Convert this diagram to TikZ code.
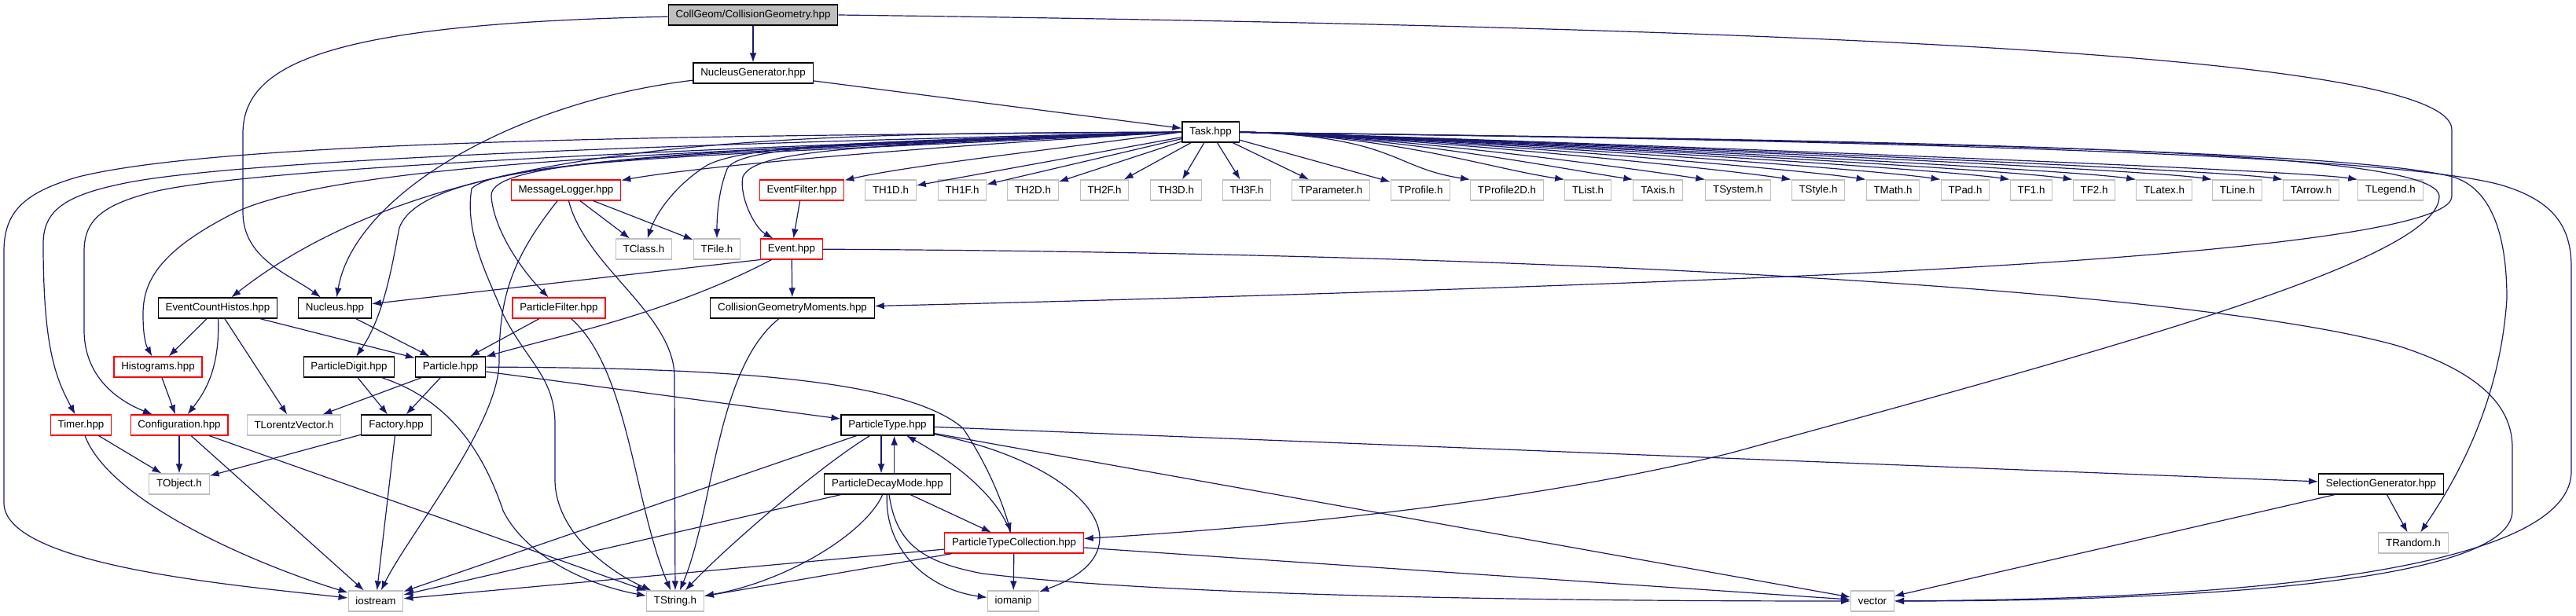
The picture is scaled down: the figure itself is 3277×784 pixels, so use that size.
\documentclass[tikz,border=0pt]{standalone}
\usepackage{fontspec}
\setmainfont{Liberation Sans}
\usetikzlibrary{arrows.meta, calc}
\definecolor{edgeblue}{RGB}{25, 25, 112}
\definecolor{framegray}{RGB}{191, 191, 191}
\definecolor{truncred}{RGB}{255, 0, 0}

\begin{document}
\begin{tikzpicture}[
    x=0.75pt, y=-0.75pt,
    file/.style={draw=black, fill=white, line width=0.8pt, font=\fontsize{10}{12}\selectfont, inner xsep=7pt, inner ysep=0pt, minimum height=19.5pt},
    sysfile/.style={file, draw=framegray},
    truncfile/.style={file, draw=truncred},
    mainfile/.style={file, fill=framegray},
    arrow/.style={-{Latex[length=9pt, width=6.5pt]}, line width=0.9pt, edgeblue}
]
\useasboundingbox (0,0) rectangle (3277,784);

% Top: the file itself
\node (collgeom) [mainfile] at (958,19) {CollGeom/CollisionGeometry.hpp};
\node (nucgen) [file] at (958,93) {NucleusGenerator.hpp};
\node (task) [file] at (1540,168) {Task.hpp};

% Row of headers included by Task.hpp
\node (msglog) [truncfile] at (720,242) {MessageLogger.hpp};
\node (evfilter) [truncfile] at (1020,242) {EventFilter.hpp};
\foreach \hdr/\xpos in {TH1D/1133, TH1F/1224, TH2D/1314, TH2F/1405, TH3D/1496, TH3F/1586, TParameter/1693, TProfile/1807, TProfile2D/1917, TList/2020, TAxis/2109, TSystem/2211, TStyle/2313, TMath/2408, TPad/2500, TF1/2584, TF2/2664, TLatex/2753, TLine/2846, TArrow/2940, TLegend/3041}
    \node (\hdr) [sysfile] at (\xpos,242) {\hdr.h};

\node (tclass) [sysfile] at (819,317) {TClass.h};
\node (tfile) [sysfile] at (912,317) {TFile.h};
\node (event) [truncfile] at (1007,317) {Event.hpp};

\node (echistos) [file] at (277,392) {EventCountHistos.hpp};
\node (nucleus) [file] at (426,392) {Nucleus.hpp};
\node (pfilter) [truncfile] at (711,392) {ParticleFilter.hpp};
\node (cgmoments) [file] at (1008,392) {CollisionGeometryMoments.hpp};

\node (histos) [truncfile] at (201,467) {Histograms.hpp};
\node (pdigit) [file] at (444,467) {ParticleDigit.hpp};
\node (particle) [file] at (573,467) {Particle.hpp};

\node (timer) [truncfile] at (103,541) {Timer.hpp};
\node (config) [truncfile] at (228,541) {Configuration.hpp};
\node (tlorentz) [sysfile] at (374,541) {TLorentzVector.h};
\node (factory) [file] at (504,541) {Factory.hpp};
\node (ptype) [file] at (1129,541) {ParticleType.hpp};

\node (tobject) [sysfile] at (228,616) {TObject.h};
\node (pdecay) [file] at (1129,616) {ParticleDecayMode.hpp};
\node (selgen) [file] at (3029,616) {SelectionGenerator.hpp};

\node (ptcoll) [truncfile] at (1290,691) {ParticleTypeCollection.hpp};
\node (trandom) [sysfile] at (3070,691) {TRandom.h};

% Standard and ROOT leaves
\node (iostream) [sysfile] at (478,765) {iostream};
\node (tstring) [sysfile] at (859,765) {TString.h};
\node (iomanip) [sysfile] at (1289,765) {iomanip};
\node (vector) [sysfile] at (2382,765) {vector};

% CollisionGeometry.hpp
\draw [arrow] (collgeom) -- (nucgen);
\draw [arrow] (collgeom) .. controls (420,30) and (309,80) .. (309,170) -- (309,270) .. controls (309,330) and (370,350) .. (nucleus);
\draw [arrow] (collgeom.east) .. controls (2300,35) and (3119,70) .. (3119,165) -- (3119,250) .. controls (3119,300) and (2700,335) .. (2200,355) .. controls (1700,375) and (1300,385) .. (cgmoments);

% NucleusGenerator.hpp
\draw [arrow] (nucgen) -- (task);
\draw [arrow] (nucgen) .. controls (650,130) and (450,250) .. (nucleus);

% Task.hpp, to the left
\draw [arrow] (task.west) .. controls (1000,172) and (300,175) .. (100,225) .. controls (30,245) and (5,270) .. (5,320) -- (5,640) .. controls (5,720) and (300,745) .. (iostream);
\draw [arrow] (task.west) .. controls (1000,180) and (300,200) .. (150,235) .. controls (80,250) and (55,270) .. (55,310) .. controls (55,440) and (70,480) .. (timer);
\draw [arrow] (task.west) .. controls (1000,185) and (350,210) .. (200,243) .. controls (130,260) and (107,280) .. (107,320) -- (107,420) .. controls (107,480) and (150,510) .. (config);
\draw [arrow] (task.west) .. controls (1000,190) and (450,200) .. (300,270) .. controls (200,320) and (182,360) .. (182,400) .. controls (182,430) and (186,440) .. (histos);
\draw [arrow] (task.west) .. controls (1000,170) and (560,170) .. (echistos);
\draw [arrow] (task.west) .. controls (900,190) and (540,200) .. (508,290) .. controls (500,330) and (490,400) .. (pdigit);
\draw [arrow] (task.west) .. controls (1000,195) and (640,200) .. (600,240) .. controls (590,300) and (625,360) .. (640,400) .. controls (670,460) and (706,480) .. (706,540) -- (706,610) .. controls (706,680) and (780,730) .. (tstring);
\draw [arrow] (task.west) .. controls (900,195) and (620,200) .. (625,250) .. controls (628,290) and (660,340) .. (pfilter);
\draw [arrow] (task.west) .. controls (1200,185) and (900,210) .. (msglog);
\draw [arrow] (task.west) .. controls (1100,180) and (950,185) .. (900,210) .. controls (860,235) and (835,270) .. (tclass);
\draw [arrow] (task.west) .. controls (1100,182) and (940,185) .. (925,215) .. controls (915,240) and (912,270) .. (tfile);
\draw [arrow] (task.west) .. controls (1100,185) and (960,190) .. (945,225) .. controls (940,250) and (960,290) .. (event);
\draw [arrow] (task.west) .. controls (1300,195) and (1150,212) .. (evfilter);

% Task.hpp, ROOT headers
\foreach \hdr in {TH1D, TH1F, TH2D, TH2F, TH3D, TH3F, TParameter, TProfile}
    \draw [arrow] (task) -- (\hdr);
\foreach \hdr in {TProfile2D, TList, TAxis, TSystem, TStyle, TMath, TPad, TF1, TF2, TLatex, TLine, TArrow, TLegend}
    \draw [arrow] (task.east) .. controls +(200,5) and ($(\hdr.north west)+(-100,-15)$) .. (\hdr.north west);

% Task.hpp, far right
\draw [arrow] (task) .. controls (2500,180) and (3103,190) .. (3103,250) .. controls (3103,330) and (2700,440) .. (2200,577) .. controls (1900,650) and (1550,675) .. (ptcoll);
\draw [arrow] (task) .. controls (2500,180) and (3000,195) .. (3120,225) .. controls (3170,240) and (3189,300) .. (3189,380) .. controls (3180,520) and (3118,620) .. (trandom);
\draw [arrow] (task) .. controls (2500,180) and (3050,200) .. (3180,235) .. controls (3250,255) and (3271,290) .. (3271,340) -- (3271,600) .. controls (3271,700) and (3000,762) .. (vector);

% Middle layer
\draw [arrow] (msglog) -- (tclass);
\draw [arrow] (msglog) -- (tfile);
\draw [arrow] (msglog) .. controls (650,330) and (635,380) .. (635,460) .. controls (635,540) and (520,680) .. (iostream);
\draw [arrow] (msglog) .. controls (745,340) and (858,400) .. (858,480) -- (tstring);
\draw [arrow] (evfilter) -- (event);
\draw [arrow] (event.south west) -- (nucleus);
\draw [arrow] (event) .. controls (850,400) and (700,430) .. (particle);
\draw [arrow] (event) -- (cgmoments);
\draw [arrow] (event) .. controls (2000,322) and (2800,370) .. (3050,440) .. controls (3160,475) and (3196,520) .. (3196,570) -- (3196,650) .. controls (3196,740) and (2800,765) .. (vector);
\draw [arrow] (echistos) -- (histos);
\draw [arrow] (echistos) .. controls (280,470) and (260,500) .. (config);
\draw [arrow] (echistos) -- (tlorentz);
\draw [arrow] (echistos) -- (particle);
\draw [arrow] (nucleus) -- (particle);
\draw [arrow] (pfilter) -- (particle);
\draw [arrow] (pfilter) .. controls (800,470) and (806,640) .. (tstring);
\draw [arrow] (cgmoments) .. controls (910,470) and (908,650) .. (tstring);
\draw [arrow] (histos) -- (config);
\draw [arrow] (pdigit) -- (factory);
\draw [arrow] (pdigit) .. controls (560,505) and (610,560) .. (640,650) .. controls (670,710) and (750,745) .. (tstring);
\draw [arrow] (particle) -- (tlorentz);
\draw [arrow] (particle) -- (factory);
\draw [arrow] (particle) -- (ptype);
\draw [arrow] (particle) .. controls (900,468) and (1150,480) .. (1225,545) .. controls (1262,600) and (1278,650) .. (ptcoll);

% Lower left
\draw [arrow] (timer) -- (tobject);
\draw [arrow] (timer) .. controls (140,640) and (330,720) .. (iostream);
\draw [arrow] (config) -- (tobject);
\draw [arrow] (config) -- (iostream);
\draw [arrow] (config) -- (tstring);
\draw [arrow] (factory) -- (tobject);
\draw [arrow] (factory) -- (iostream);

% ParticleType cluster
\draw [arrow] ([xshift=-6pt]ptype.south) -- ([xshift=-6pt]pdecay.north);
\draw [arrow] ([xshift=6.5pt]pdecay.north) -- ([xshift=6.5pt]ptype.south);
\draw [arrow] (ptype) -- (selgen);
\draw [arrow] (ptype) -- (iostream);
\draw [arrow] (ptype) .. controls (1040,595) and (920,700) .. (tstring);
\draw [arrow] (ptype) .. controls (1380,590) and (1470,700) .. (iomanip);
\draw [arrow] (ptype) -- (vector);
\draw [arrow] (pdecay) -- (ptcoll);
\draw [arrow] (pdecay) -- (iostream);
\draw [arrow] (pdecay) .. controls (1100,680) and (1000,740) .. (tstring);
\draw [arrow] (pdecay) .. controls (1125,700) and (1180,750) .. (iomanip);
\draw [arrow] (pdecay) .. controls (1140,690) and (1170,715) .. (1250,730) .. controls (1500,760) and (2000,765) .. (vector);
\draw [arrow] (ptcoll) .. controls (1265,620) and (1190,575) .. (ptype);
\draw [arrow] (ptcoll) -- (iostream);
\draw [arrow] (ptcoll) -- (tstring);
\draw [arrow] (ptcoll) -- (iomanip);
\draw [arrow] (ptcoll) -- (vector);
\draw [arrow] (selgen) -- (trandom);
\draw [arrow] (selgen) -- (vector);

\end{tikzpicture}
\end{document}
